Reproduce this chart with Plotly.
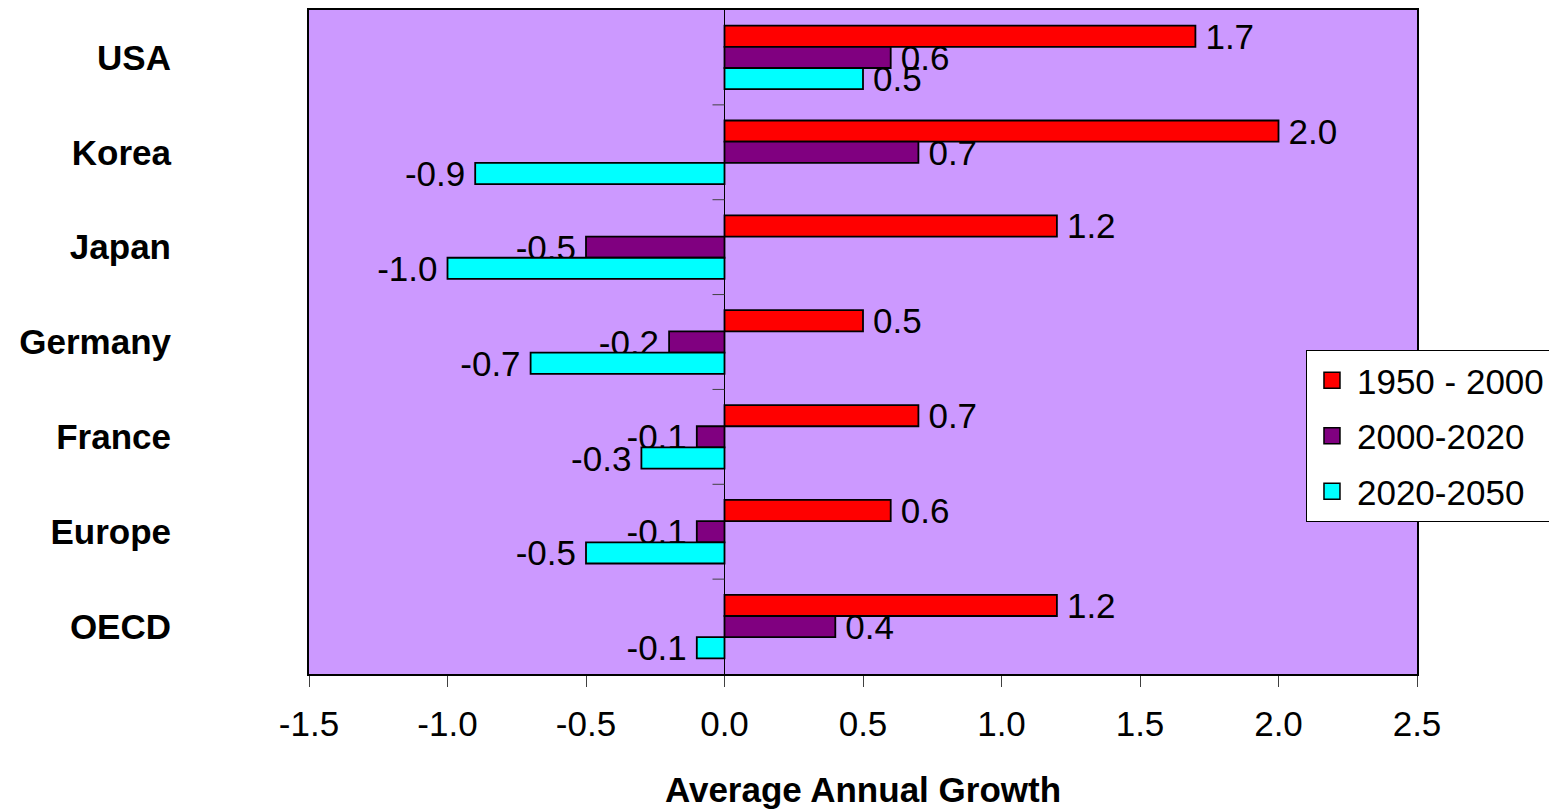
import plotly.graph_objects as go

# Regions, top to bottom
categories = ["USA", "Korea", "Japan", "Germany", "France", "Europe", "OECD"]

# Average annual growth by period
growth_1950_2000 = [1.7, 2.0, 1.2, 0.5, 0.7, 0.6, 1.2]
growth_2000_2020 = [0.6, 0.7, -0.5, -0.2, -0.1, -0.1, 0.4]
growth_2020_2050 = [0.5, -0.9, -1.0, -0.7, -0.3, -0.5, -0.1]

series_names = ["1950 - 2000", "2000-2020", "2020-2050"]
series_values = [growth_1950_2000, growth_2000_2020, growth_2020_2050]
series_colors = ["#FF0000", "#800080", "#00FFFF"]

x_ticks = [-1.5, -1.0, -0.5, 0.0, 0.5, 1.0, 1.5, 2.0, 2.5]

FONT = "Liberation Sans, Arial, sans-serif"
FS = 35
GAP = "\u2009"  # thin space


def label(v):
    # a little breathing room between the bar end and its value
    return f"{GAP}{v:.1f}" if v >= 0 else f"{v:.1f}{GAP}"


fig = go.Figure()

for name, vals, col in zip(series_names, series_values, series_colors):
    fig.add_trace(go.Bar(
        y=categories,
        x=vals,
        orientation="h",
        name=name,
        marker=dict(color=col, line=dict(color="black", width=1.8)),
        text=[label(v) for v in vals],
        textposition="outside",
        constraintext="none",
        cliponaxis=False,
        textfont=dict(family=FONT, size=FS, color="black"),
        showlegend=False,
        hoverinfo="x+y+name",
    ))

# legend entries with larger square swatches
for i, (name, col) in enumerate(zip(series_names, series_colors)):
    fig.add_trace(go.Scatter(
        x=[None], y=[None], mode="markers", name=name,
        legendgroup=f"g{i}",
        marker=dict(symbol="square", size=16, color=col,
                    line=dict(color="black", width=1.5)),
    ))

# short category ticks along the zero line
for i in range(len(categories) - 1):
    fig.add_shape(
        type="line", xref="x", yref="y",
        xsizemode="pixel", xanchor=0, x0=-12, x1=0,
        y0=i + 0.5, y1=i + 0.5,
        line=dict(color="#404040", width=1),
    )

fig.update_layout(
    template="none",
    width=1549,
    height=809,
    margin=dict(l=309, r=132, t=10, b=135, autoexpand=False),
    paper_bgcolor="white",
    plot_bgcolor="#CC99FF",
    barmode="group",
    bargap=0.33,
    bargroupgap=0,
    font=dict(family=FONT, size=FS, color="black"),
    xaxis=dict(
        range=[-1.5, 2.5],
        tickvals=x_ticks,
        ticktext=[f"{t:.1f}" for t in x_ticks],
        ticks="outside",
        ticklen=11,
        tickwidth=1,
        tickcolor="#404040",
        tickfont=dict(family=FONT, size=FS, color="black"),
        ticklabelstandoff=7,
        showgrid=False,
        zeroline=True,
        zerolinecolor="black",
        zerolinewidth=1,
        showline=True,
        mirror=True,
        linecolor="black",
        linewidth=2,
        title=dict(
            text="<b>Average Annual Growth</b>",
            font=dict(family=FONT, size=FS, color="black"),
            standoff=35,
        ),
        automargin=False,
    ),
    yaxis=dict(
        categoryorder="array",
        categoryarray=categories,
        autorange="reversed",
        ticks="",
        tickfont=dict(family=FONT, size=FS, color="black", weight="bold"),
        ticklabelstandoff=129,
        showgrid=False,
        zeroline=False,
        showline=True,
        mirror=True,
        linecolor="black",
        linewidth=2,
        automargin=False,
    ),
    legend=dict(
        x=0.8998,
        xanchor="left",
        y=0.488,
        yanchor="top",
        bgcolor="white",
        bordercolor="black",
        borderwidth=1,
        font=dict(family=FONT, size=FS, color="black"),
        itemwidth=40,
        traceorder="grouped",
        tracegroupgap=7,
    ),
    hovermode="closest",
)

fig.write_html("out.html")
